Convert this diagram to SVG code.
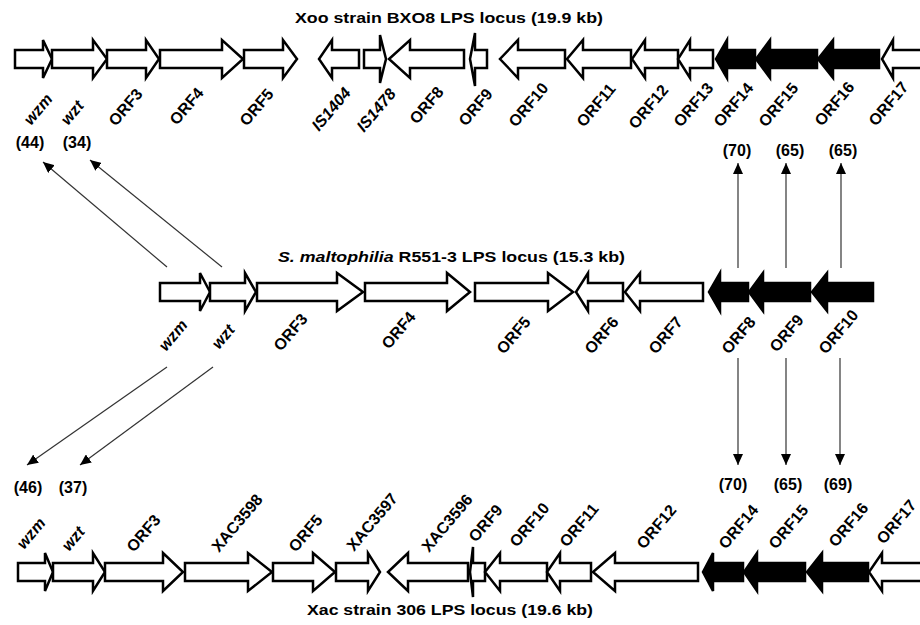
<svg xmlns="http://www.w3.org/2000/svg" width="920" height="625" viewBox="0 0 920 625">
<style>
text{font-family:"Liberation Sans",Arial,sans-serif;font-weight:bold;fill:#000}
.g{fill:#fff;stroke:#000;stroke-width:2.5;stroke-linejoin:miter}
.b{fill:#000;stroke:#000;stroke-width:2.5}
.lab{font-size:16px}
.it{font-style:italic}
.ttl{font-size:15.5px}
.num{font-size:16px;text-anchor:middle}
.c{stroke:#333;stroke-width:1.2;fill:none;marker-end:url(#ah)}
</style>
<defs>
<marker id="ah" markerUnits="userSpaceOnUse" markerWidth="12" markerHeight="10" refX="11" refY="5" orient="auto">
<path d="M0,0 L11,5 L0,10 Z" fill="#000"/>
</marker>
</defs>
<rect width="920" height="625" fill="#fff"/>

<text class="ttl" x="295" y="23" textLength="308" lengthAdjust="spacingAndGlyphs">Xoo strain BXO8 LPS locus (19.9 kb)</text>
<text class="ttl" x="278" y="262" textLength="347" lengthAdjust="spacingAndGlyphs"><tspan font-style="italic">S. maltophilia</tspan> R551-3 LPS locus (15.3 kb)</text>
<text class="ttl" x="307" y="615" textLength="286" lengthAdjust="spacingAndGlyphs">Xac strain 306 LPS locus (19.6 kb)</text>

<!-- Top row: Xoo -->
<g id="xoo-wzm"><polygon class="g" points="15,50 43,50 43,40 52,59 43,78 43,68 15,68"/><text class="lab it" transform="translate(31,126) rotate(-50)">wzm</text></g>
<g id="xoo-wzt"><polygon class="g" points="52,50 93,50 93,40 107,59 93,78 93,68 52,68"/><text class="lab it" transform="translate(68,126) rotate(-50)">wzt</text></g>
<g id="xoo-orf3"><polygon class="g" points="107,50 146,50 146,40 159,59 146,78 146,68 107,68"/><text class="lab" transform="translate(116,127) rotate(-50)">ORF3</text></g>
<g id="xoo-orf4"><polygon class="g" points="160,50 222,50 222,40 243,59 222,78 222,68 160,68"/><text class="lab" transform="translate(177,126) rotate(-50)">ORF4</text></g>
<g id="xoo-orf5"><polygon class="g" points="244,50 283,50 283,40 297,59 283,78 283,68 244,68"/><text class="lab" transform="translate(247,127) rotate(-50)">ORF5</text></g>
<g id="xoo-is1404"><polygon class="g" points="359,50 332,50 332,40 319,59 332,78 332,68 359,68"/><text class="lab it" transform="translate(319,132) rotate(-50)">IS1404</text></g>
<g id="xoo-is1478"><polygon class="g" points="364,50 380,50 380,35 386,59 380,83 380,68 364,68"/><text class="lab it" transform="translate(364,133) rotate(-50)">IS1478</text></g>
<g id="xoo-orf8"><polygon class="g" points="464,50 410,50 410,40 389,59 410,78 410,68 464,68"/><text class="lab" transform="translate(417,125) rotate(-50)">ORF8</text></g>
<g id="xoo-orf9"><polygon class="g" points="487,50 475,50 475,33 470,59 475,86 475,68 487,68"/><text class="lab" transform="translate(466,127) rotate(-50)">ORF9</text></g>
<g id="xoo-orf10"><polygon class="g" points="565,50 518,50 518,40 500,59 518,78 518,68 565,68"/><text class="lab" transform="translate(516,128) rotate(-50)">ORF10</text></g>
<g id="xoo-orf11"><polygon class="g" points="631,50 583,50 583,40 567,59 583,78 583,68 631,68"/><text class="lab" transform="translate(584,128) rotate(-50)">ORF11</text></g>
<g id="xoo-orf12"><polygon class="g" points="678,50 645,50 645,40 632,59 645,78 645,68 678,68"/><text class="lab" transform="translate(636,130) rotate(-50)">ORF12</text></g>
<g id="xoo-orf13"><polygon class="g" points="713,50 690,50 690,40 678,59 690,78 690,68 713,68"/><text class="lab" transform="translate(681,128) rotate(-50)">ORF13</text></g>
<g id="xoo-orf14"><polygon class="b" points="755,50 727,50 727,40 716,59 727,78 727,68 755,68"/><text class="lab" transform="translate(721,128) rotate(-50)">ORF14</text></g>
<g id="xoo-orf15"><polygon class="b" points="817,50 770,50 770,40 756,59 770,78 770,68 817,68"/><text class="lab" transform="translate(766,128) rotate(-50)">ORF15</text></g>
<g id="xoo-orf16"><polygon class="b" points="879,50 833,50 833,40 818,59 833,78 833,68 879,68"/><text class="lab" transform="translate(822,127) rotate(-50)">ORF16</text></g>
<g id="xoo-orf17"><polygon class="g" points="930,50 893,50 893,40 882,59 893,78 893,68 930,68"/><text class="lab" transform="translate(876,127) rotate(-50)">ORF17</text></g>

<!-- Middle row: S. maltophilia -->
<g id="sm-wzm"><polygon class="g" points="160,283 200,283 200,273 210,292 200,311 200,301 160,301"/><text class="lab it" transform="translate(166,352) rotate(-50)">wzm</text></g>
<g id="sm-wzt"><polygon class="g" points="210,283 245,283 245,273 256,292 245,311 245,301 210,301"/><text class="lab it" transform="translate(219,350) rotate(-50)">wzt</text></g>
<g id="sm-orf3"><polygon class="g" points="257,283 337,283 337,273 363,292 337,311 337,301 257,301"/><text class="lab" transform="translate(281,352) rotate(-50)">ORF3</text></g>
<g id="sm-orf4"><polygon class="g" points="365,283 447,283 447,273 470,292 447,311 447,301 365,301"/><text class="lab" transform="translate(389,350) rotate(-50)">ORF4</text></g>
<g id="sm-orf5"><polygon class="g" points="475,283 548,283 548,273 573,292 548,311 548,301 475,301"/><text class="lab" transform="translate(504,355) rotate(-50)">ORF5</text></g>
<g id="sm-orf6"><polygon class="g" points="623,283 588,283 588,273 576,292 588,311 588,301 623,301"/><text class="lab" transform="translate(592,355) rotate(-50)">ORF6</text></g>
<g id="sm-orf7"><polygon class="g" points="703,283 640,283 640,273 625,292 640,311 640,301 703,301"/><text class="lab" transform="translate(656,355) rotate(-50)">ORF7</text></g>
<g id="sm-orf8"><polygon class="b" points="748,283 720,283 720,273 709,292 720,311 720,301 748,301"/><text class="lab" transform="translate(729,355) rotate(-50)">ORF8</text></g>
<g id="sm-orf9"><polygon class="b" points="810,283 763,283 763,273 749,292 763,311 763,301 810,301"/><text class="lab" transform="translate(777,353) rotate(-50)">ORF9</text></g>
<g id="sm-orf10"><polygon class="b" points="873,283 827,283 827,273 812,292 827,311 827,301 873,301"/><text class="lab" transform="translate(826,355) rotate(-50)">ORF10</text></g>

<!-- Bottom row: Xac -->
<g id="xac-wzm"><polygon class="g" points="18,563 45,563 45,553 53,572 45,591 45,581 18,581"/><text class="lab it" transform="translate(24,550) rotate(-50)">wzm</text></g>
<g id="xac-wzt"><polygon class="g" points="53,563 93,563 93,553 105,572 93,591 93,581 53,581"/><text class="lab it" transform="translate(69,552) rotate(-50)">wzt</text></g>
<g id="xac-orf3"><polygon class="g" points="105,563 163,563 163,553 183,572 163,591 163,581 105,581"/><text class="lab" transform="translate(134,553) rotate(-50)">ORF3</text></g>
<g id="xac-xac3598"><polygon class="g" points="185,563 248,563 248,553 272,572 248,591 248,581 185,581"/><text class="lab" transform="translate(219,553) rotate(-50)">XAC3598</text></g>
<g id="xac-orf5"><polygon class="g" points="273,563 313,563 313,553 335,572 313,591 313,581 273,581"/><text class="lab" transform="translate(296,553) rotate(-50)">ORF5</text></g>
<g id="xac-xac3597"><polygon class="g" points="336,563 368,563 368,553 380,572 368,591 368,581 336,581"/><text class="lab" transform="translate(354,552) rotate(-50)">XAC3597</text></g>
<g id="xac-xac3596"><polygon class="g" points="468,563 408,563 408,553 388,572 408,591 408,581 468,581"/><text class="lab" transform="translate(429,553) rotate(-50)">XAC3596</text></g>
<g id="xac-orf9"><polygon class="g" points="485,563 473,563 473,547 470,572 473,597 473,581 485,581"/><text class="lab" transform="translate(476,543) rotate(-50)">ORF9</text></g>
<g id="xac-orf10"><polygon class="g" points="547,563 500,563 500,553 485,572 500,591 500,581 547,581"/><text class="lab" transform="translate(517,548) rotate(-50)">ORF10</text></g>
<g id="xac-orf11"><polygon class="g" points="591,563 560,563 560,553 547,572 560,591 560,581 591,581"/><text class="lab" transform="translate(567,548) rotate(-50)">ORF11</text></g>
<g id="xac-orf12"><polygon class="g" points="698,563 615,563 615,553 593,572 615,591 615,581 698,581"/><text class="lab" transform="translate(644,550) rotate(-50)">ORF12</text></g>
<g id="xac-orf14"><polygon class="b" points="743,563 713,563 713,553 703,572 713,591 713,581 743,581"/><text class="lab" transform="translate(726,550) rotate(-50)">ORF14</text></g>
<g id="xac-orf15"><polygon class="b" points="805,563 757,563 757,553 744,572 757,591 757,581 805,581"/><text class="lab" transform="translate(776,550) rotate(-50)">ORF15</text></g>
<g id="xac-orf16"><polygon class="b" points="868,563 822,563 822,553 807,572 822,591 822,581 868,581"/><text class="lab" transform="translate(836,548) rotate(-50)">ORF16</text></g>
<g id="xac-orf17"><polygon class="g" points="930,563 882,563 882,553 869,572 882,591 882,581 930,581"/><text class="lab" transform="translate(884,545) rotate(-50)">ORF17</text></g>

<!-- Connectors -->
<g id="connectors">
<line class="c" x1="167" y1="267" x2="43" y2="162"/>
<line class="c" x1="222" y1="267" x2="90" y2="160"/>
<line class="c" x1="738" y1="268" x2="738" y2="163"/>
<line class="c" x1="786" y1="268" x2="786" y2="163"/>
<line class="c" x1="841" y1="268" x2="841" y2="163"/>
<line class="c" x1="167" y1="367" x2="27" y2="465"/>
<line class="c" x1="213" y1="367" x2="80" y2="465"/>
<line class="c" x1="738" y1="358" x2="738" y2="465"/>
<line class="c" x1="786" y1="358" x2="786" y2="465"/>
<line class="c" x1="840" y1="358" x2="840" y2="465"/>
</g>

<!-- Identity values -->
<g id="identities">
<text class="num" x="30" y="148">(44)</text>
<text class="num" x="77" y="148">(34)</text>
<text class="num" x="737" y="156">(70)</text>
<text class="num" x="790" y="156">(65)</text>
<text class="num" x="843" y="156">(65)</text>
<text class="num" x="28" y="493">(46)</text>
<text class="num" x="73" y="493">(37)</text>
<text class="num" x="733" y="490">(70)</text>
<text class="num" x="788" y="490">(65)</text>
<text class="num" x="838" y="490">(69)</text>
</g>
</svg>
